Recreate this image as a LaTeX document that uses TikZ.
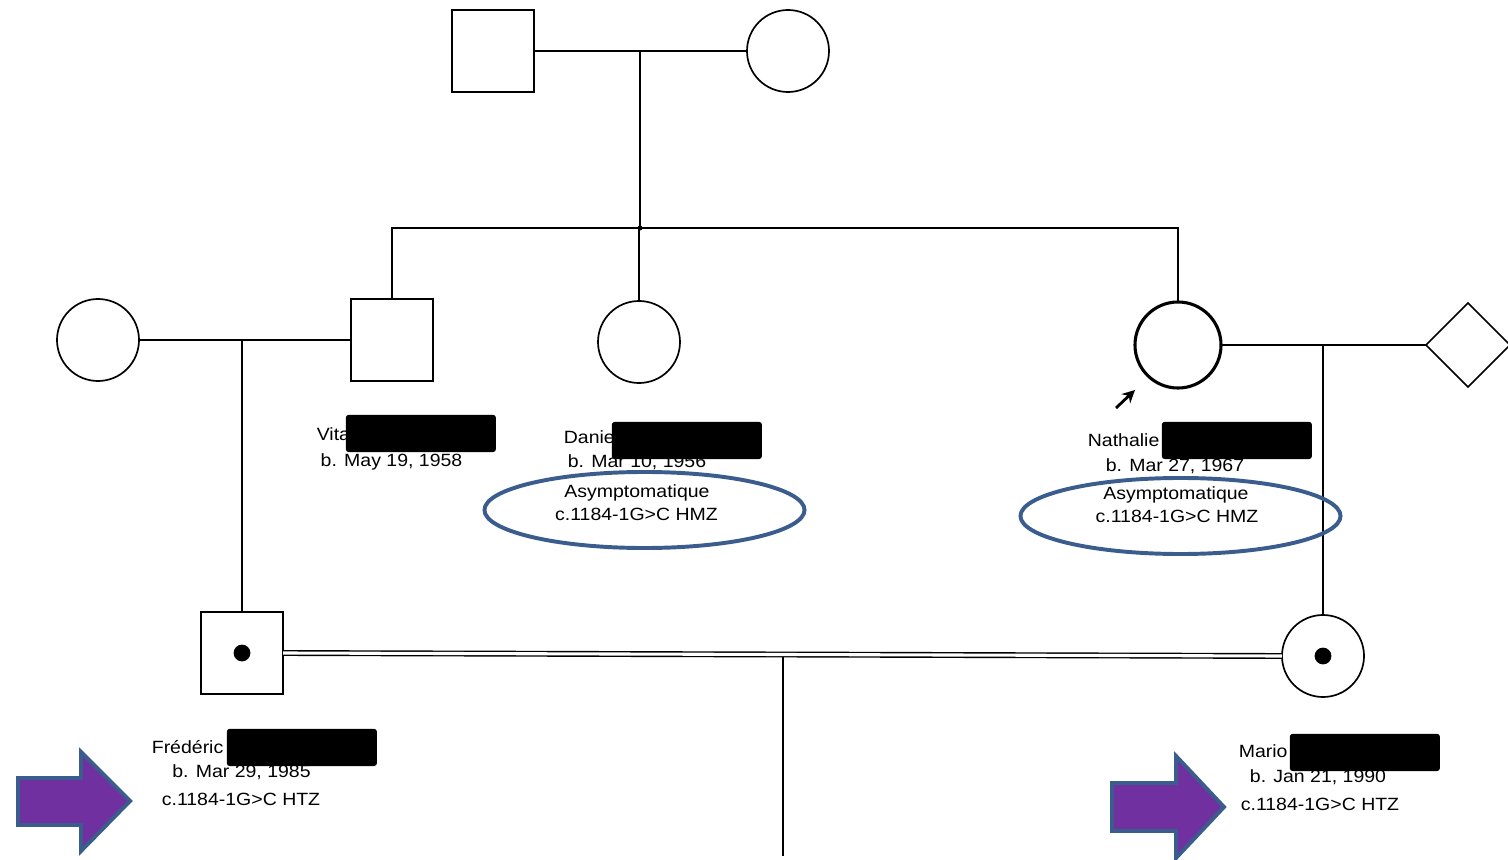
\documentclass[tikz,border=0pt]{standalone}
\usepackage{fontspec}
\setmainfont{Liberation Sans}[FakeStretch=1.1]
\usetikzlibrary{shapes.geometric,arrows.meta}
\definecolor{noteblue}{HTML}{3B5D8E}
\definecolor{arrowpurple}{HTML}{7030A0}
\begin{document}
\begin{tikzpicture}[x=0.025cm,y=-0.025cm,
  line width=1.2pt,
  male/.style={draw, rectangle, minimum size=2.05cm, inner sep=0pt, outer sep=0pt},
  female/.style={draw, circle, minimum size=2.05cm, inner sep=0pt, outer sep=0pt},
  unk/.style={draw, diamond, aspect=1, minimum width=2.1cm, minimum height=2.1cm, inner sep=0pt, outer sep=0pt},
  carrier/.style={circle, fill=black, minimum size=0.42cm, inner sep=0pt},
  txt/.style={inner sep=0pt, font=\fontsize{12.6}{15}\selectfont},
  redact/.style={fill=black, rounded corners=2pt, minimum width=3.75cm, minimum height=0.93cm, inner sep=0pt},
  note/.style={draw=noteblue, line width=2.8pt, ellipse, minimum width=8.0cm, minimum height=1.9cm, inner sep=0pt},
  bigarrow/.style={fill=arrowpurple, draw=noteblue, line width=2.8pt, line join=miter}
]
\useasboundingbox (0,0) rectangle (1508,860);

% pedigree symbols
\node[male] (gf) at (493,51) {};
\node[female] (gm) at (788,51) {};
\node[male] (vit) at (392,340) {};
\node[female] (dan) at (639,342) {};
\node[female, line width=2.2pt, minimum size=2.15cm] (nat) at (1178,345) {};
\node[female] (vw) at (98,340) {};
\node[unk] (nsp) at (1468,345) {};
\node[male] (fre) at (242,653) {};
\node[female] (mar) at (1323,656) {};
\node[carrier] (fdot) at (fre.center) {};
\node[carrier] (mdot) at (mar.center) {};

% connectors
\coordinate (sib) at (640,228);
\draw (gf.east) -- (gm.west);
\draw (gf.east -| sib) -- (sib);
\draw (vit.north) |- (sib) -| (nat.north);
\draw (dan.north) -- (dan.north |- sib);
\fill (sib) circle (2.5);
\draw (vw.east) -- (vit.west);
\draw (vw.east -| fre.north) -- (fre.north);
\draw (nat.east) -- (nsp.west);
\draw (nat.east -| mar.north) -- (mar.north);
\draw[line width=1pt, double, double distance=2.2pt] (fre.east) -- (mar.west);
\coordinate (chtop) at (783,657);
\coordinate (chbot) at (783,856);
\draw (chtop) -- (chbot);

% proband arrow
\coordinate (pa1) at (1116,408);
\coordinate (pa2) at (1135,390);
\draw[-{Stealth[length=9pt,width=9pt]}, line width=2pt] (pa1) -- (pa2);

% labels
\node[txt, anchor=base west] (vitn) at (316,440) {Vita};
\node[redact, anchor=north west] (vitr) at (345,414) {};
\node[txt, anchor=base] (vitb) at (391.5,466) {b. May 19, 1958};

\node[txt, anchor=base west] (dann) at (563,443) {Danie};
\node[redact, anchor=north west] (danr) at (611,421) {};
\node[txt, anchor=base] (danb) at (637,467) {b. Mar 10, 1956};
\node[txt, anchor=base] (dana) at (637,497) {Asymptomatique};
\node[txt, anchor=base] (danc) at (636.5,520) {c.1184-1G>C HMZ};
\node[note] (dane) at (644.5,510) {};

\node[txt, anchor=base west] (natn) at (1087,446) {Nathalie};
\node[redact, anchor=north west] (natr) at (1161,421) {};
\node[txt, anchor=base] (natb) at (1175,471) {b. Mar 27, 1967};
\node[txt, anchor=base] (nata) at (1176,499) {Asymptomatique};
\node[txt, anchor=base] (natc) at (1177,522) {c.1184-1G>C HMZ};
\node[note] (nate) at (1180.5,516) {};

\node[txt, anchor=base west] (fren) at (151,753) {Frédéric};
\node[redact, anchor=north west] (frer) at (226,728) {};
\node[txt, anchor=base] (freb) at (241.5,777) {b. Mar 29, 1985};
\node[txt, anchor=base] (frec) at (241,805) {c.1184-1G>C HTZ};

\node[txt, anchor=base west] (marn) at (1238,757) {Mario};
\node[redact, anchor=north west] (marr) at (1289,733) {};
\node[txt, anchor=base] (marb) at (1318,782) {b. Jan 21, 1990};
\node[txt, anchor=base] (marc) at (1320,810) {c.1184-1G>C HTZ};

% purple arrows
\draw[bigarrow] (18,778) -- (81,778) -- (81,752) -- (130,801) -- (81,851) -- (81,825) -- (18,825) -- cycle;
\draw[bigarrow] (1112,783) -- (1176,783) -- (1176,756) -- (1224,807) -- (1176,858) -- (1176,831) -- (1112,831) -- cycle;
\end{tikzpicture}
\end{document}
